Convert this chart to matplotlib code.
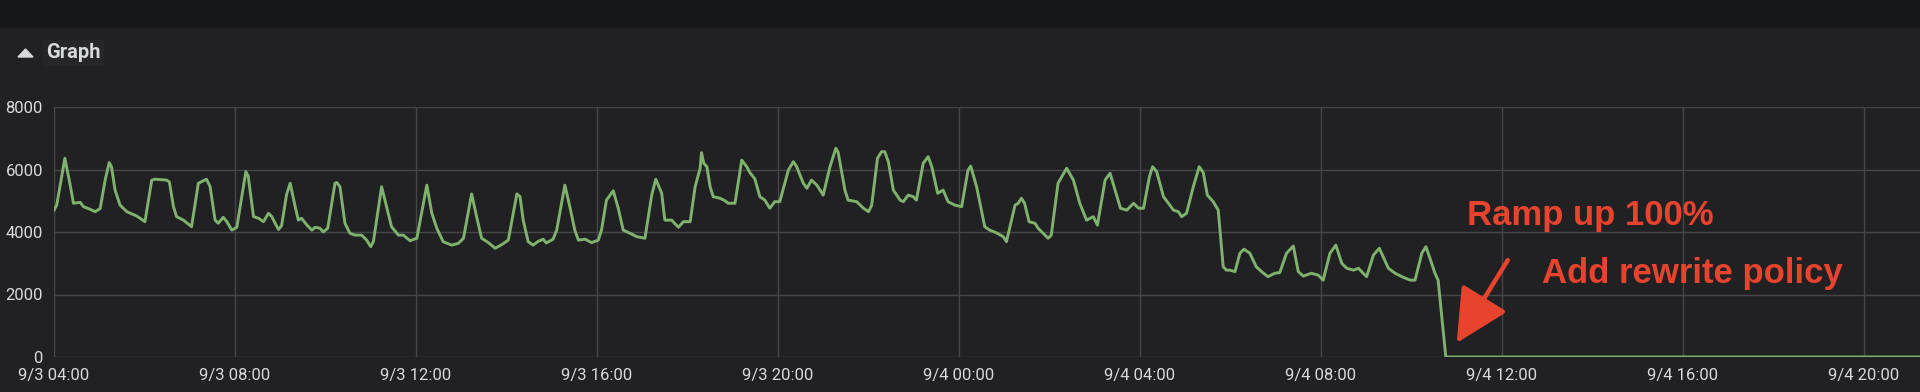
import matplotlib
matplotlib.use("Agg")
import matplotlib.pyplot as plt
import matplotlib.dates as mdates
from matplotlib.patches import Rectangle, Polygon
from datetime import datetime, timedelta

# hours after 9/3 04:00 and the value
hours = [
    0.00, 0.06, 0.24, 0.35, 0.43, 0.58, 0.65, 0.76, 0.91, 1.02,
    1.13, 1.22, 1.27, 1.35, 1.46, 1.61, 1.83, 2.01, 2.16, 2.23,
    2.49, 2.55, 2.64, 2.71, 2.86, 3.04, 3.19, 3.26, 3.37, 3.45,
    3.56, 3.63, 3.74, 3.82, 3.93, 4.04, 4.24, 4.29, 4.41, 4.52,
    4.63, 4.74, 4.81, 4.96, 5.03, 5.14, 5.22, 5.33, 5.40, 5.47,
    5.59, 5.70, 5.77, 5.88, 5.95, 6.05, 6.21, 6.25, 6.32, 6.43,
    6.54, 6.65, 6.80, 6.91, 7.00, 7.06, 7.24, 7.35, 7.46, 7.61,
    7.72, 7.87, 8.02, 8.24, 8.35, 8.46, 8.60, 8.79, 8.94, 9.05,
    9.23, 9.34, 9.45, 9.60, 9.75, 9.90, 10.04, 10.23, 10.30, 10.37,
    10.48, 10.59, 10.70, 10.81, 10.88, 11.03, 11.11, 11.29, 11.40, 11.51,
    11.59, 11.74, 11.88, 12.03, 12.10, 12.21, 12.36, 12.47, 12.58, 12.73,
    12.88, 13.06, 13.21, 13.30, 13.43, 13.50, 13.65, 13.80, 13.91, 14.06,
    14.17, 14.28, 14.31, 14.36, 14.43, 14.50, 14.57, 14.72, 14.83, 14.90,
    15.05, 15.20, 15.31, 15.38, 15.49, 15.60, 15.71, 15.82, 15.93, 16.04,
    16.23, 16.34, 16.41, 16.56, 16.64, 16.74, 16.86, 17.00, 17.15, 17.28,
    17.33, 17.48, 17.55, 17.74, 17.89, 18.00, 18.07, 18.20, 18.29, 18.36,
    18.44, 18.55, 18.70, 18.77, 18.88, 18.99, 19.06, 19.21, 19.32, 19.40,
    19.53, 19.65, 19.76, 19.91, 20.06, 20.20, 20.26, 20.39, 20.57, 20.68,
    20.82, 20.98, 21.05, 21.24, 21.31, 21.38, 21.45, 21.55, 21.68, 21.75,
    21.86, 21.97, 22.04, 22.19, 22.38, 22.53, 22.67, 22.82, 22.97, 23.06,
    23.23, 23.34, 23.45, 23.57, 23.71, 23.86, 23.97, 24.08, 24.21, 24.28,
    24.37, 24.52, 24.63, 24.74, 24.85, 24.92, 25.03, 25.18, 25.31, 25.40,
    25.49, 25.62, 25.73, 25.84, 25.91, 25.99, 26.10, 26.21, 26.30, 26.43,
    26.57, 26.69, 26.83, 26.98, 27.09, 27.24, 27.39, 27.50, 27.61, 27.79,
    27.94, 28.05, 28.20, 28.33, 28.46, 28.57, 28.72, 28.83, 28.90, 29.01,
    29.16, 29.29, 29.49, 29.64, 29.79, 29.97, 30.08, 30.23, 30.32, 30.41,
    30.52, 30.59, 30.76, 41.30,
]
values = [
    4700, 4860, 6360, 5560, 4920, 4950, 4810, 4750, 4650, 4750,
    5660, 6220, 6090, 5340, 4860, 4650, 4510, 4330, 5660, 5690,
    5660, 5600, 4810, 4490, 4380, 4170, 5560, 5610, 5690, 5450,
    4380, 4280, 4470, 4330, 4060, 4150, 5930, 5800, 4490, 4440,
    4330, 4600, 4500, 4080, 4200, 5200, 5560, 4810, 4380, 4440,
    4220, 4060, 4150, 4120, 4000, 4120, 5560, 5580, 5450, 4280,
    3960, 3900, 3900, 3740, 3530, 3700, 5450, 4810, 4170, 3900,
    3900, 3720, 3800, 5500, 4600, 4120, 3690, 3580, 3640, 3800,
    5220, 4490, 3800, 3660, 3480, 3600, 3740, 5220, 5130, 4380,
    3690, 3580, 3700, 3770, 3650, 3770, 4060, 5500, 4810, 4060,
    3740, 3770, 3660, 3740, 4060, 5020, 5320, 4760, 4060, 3960,
    3850, 3800, 5180, 5690, 5240, 4380, 4380, 4150, 4330, 4330,
    5450, 6040, 6540, 6200, 6090, 5450, 5130, 5080, 5000, 4920,
    4920, 6300, 6090, 5900, 5700, 5130, 5020, 4760, 4970, 4970,
    5980, 6250, 6100, 5560, 5400, 5660, 5500, 5180, 6090, 6680,
    6550, 5340, 5020, 4970, 4760, 4650, 4850, 6360, 6570, 6570,
    6250, 5340, 5020, 4970, 5180, 5130, 5020, 6200, 6410, 6090,
    5240, 5340, 4970, 4860, 4810, 5980, 6110, 5450, 4170, 4060,
    3980, 3850, 3690, 4860, 4920, 5080, 4920, 4330, 4280, 4120,
    3960, 3800, 3900, 5560, 6040, 5660, 4920, 4380, 4490, 4220,
    5660, 5880, 5340, 4760, 4700, 4920, 4760, 4760, 5770, 6090,
    5930, 5130, 4920, 4700, 4650, 4490, 4600, 5450, 6090, 5900,
    5180, 4970, 4700, 2890, 2780, 2780, 2730, 3320, 3450, 3320,
    2890, 2730, 2570, 2680, 2700, 3320, 3550, 2730, 2590, 2680,
    2620, 2460, 3320, 3580, 3000, 2840, 2780, 2840, 2730, 2570,
    3260, 3480, 2840, 2680, 2570, 2460, 2460, 3320, 3530, 3160,
    2680, 2460, 0, 0,
]
y_ticks = [0, 2000, 4000, 6000, 8000]
start = datetime(2019, 9, 3, 4, 0)
end_hours = 41.24
notes = ["Ramp up 100%", "Add rewrite policy"]

times = [start + timedelta(hours=h) for h in hours]

bg = "#212124"
txt = "#d8d9da"
red = "#e8432c"

fig = plt.figure(figsize=(19.2, 3.92), dpi=100, facecolor=bg)
fig.patches.append(Rectangle((0, 1 - 27 / 392), 1, 27 / 392, transform=fig.transFigure,
                             color="#161719", zorder=0))
# collapse triangle + panel title
fig.patches.append(Polygon([(18 / 1920, 1 - 57 / 392), (33 / 1920, 1 - 57 / 392),
                            (25.5 / 1920, 1 - 49 / 392)], closed=True,
                           transform=fig.transFigure, color=txt))
fig.text(46 / 1920, 1 - 53 / 392, "Graph", color=txt, fontsize=14.5, fontweight="bold",
         family="Roboto", va="center", ha="left",
         bbox=dict(boxstyle="square,pad=0.15", fc="#262628", ec="none"))

ax = fig.add_axes([54 / 1920, 1 - 357 / 392, 1 - 54 / 1920, 250 / 392])
ax.set_facecolor(bg)
ax.plot(times, values, color="#7eb26d", linewidth=2.1, zorder=3)

ax.set_xlim(start, start + timedelta(hours=end_hours))
ax.set_ylim(0, 8000)
ax.set_yticks(y_ticks)
ax.xaxis.set_major_locator(mdates.HourLocator(byhour=range(0, 24, 4)))
ax.xaxis.set_major_formatter(plt.FuncFormatter(
    lambda x, pos: "{d.month}/{d.day} {d:%H:%M}".format(d=mdates.num2date(x))))
ax.grid(True, color="#464649", linewidth=1)
ax.set_axisbelow(True)
for s in ax.spines.values():
    s.set_visible(False)
ax.tick_params(length=0, colors=txt, labelsize=12, pad=8)
for lab in ax.get_xticklabels() + ax.get_yticklabels():
    lab.set_family("Roboto")

ax.annotate("", xy=(start + timedelta(hours=31.0), 450),
            xytext=(start + timedelta(hours=32.13), 3100),
            arrowprops=dict(arrowstyle="-|>,head_length=1.1,head_width=0.55",
                            color=red, lw=3.2, mutation_scale=30, shrinkA=0, shrinkB=0),
            zorder=5)
ax.text(start + timedelta(hours=31.23), 4224, notes[0], color=red, fontsize=25,
        fontweight="bold", family="Liberation Sans", va="baseline", ha="left", zorder=5)
ax.text(start + timedelta(hours=32.88), 2368, notes[1], color=red, fontsize=25,
        fontweight="bold", family="Liberation Sans", va="baseline", ha="left", zorder=5)

fig.savefig("out.png", dpi=100, facecolor=bg)
